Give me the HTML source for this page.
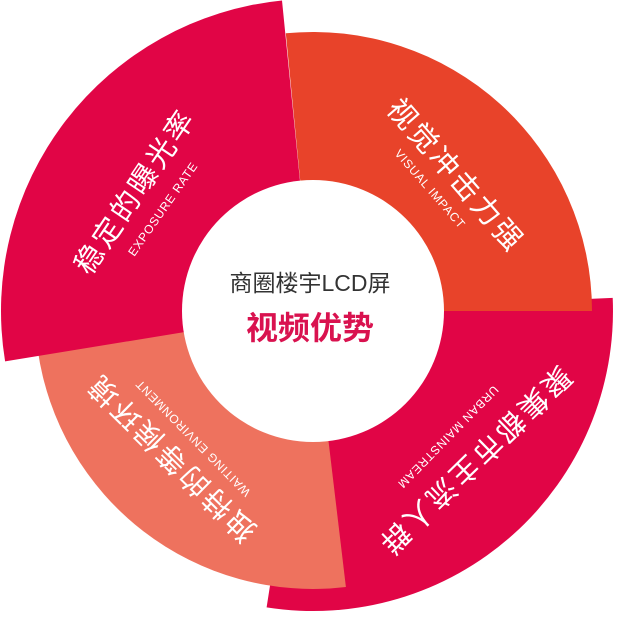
<!DOCTYPE html>
<html><head><meta charset="utf-8"><style>
html,body{margin:0;padding:0;background:#fff;}
svg{display:block;}
text{font-family:"Liberation Sans","Noto Sans CJK SC",sans-serif;}
</style></head><body>
<svg width="620" height="620" viewBox="0 0 620 620" xmlns="http://www.w3.org/2000/svg">
<path d="M313,311 L612.7,297.9 A300,300 0 0 1 266.6,607.4 Z" fill="#E10546"/>
<path d="M313,311 L285.8,33.3 A279,279 0 0 1 592,311 Z" fill="#E8432A"/>
<path d="M313,311 L345.9,587 A278,278 0 0 1 37.7,349.7 Z" fill="#EE725E"/>
<path d="M313,311 L5.1,361.4 A312,312 0 0 1 282,0.5 Z" fill="#E10546"/>
<circle cx="313" cy="311" r="131" fill="#fff"/>

<g fill="#fff" text-anchor="middle" dominant-baseline="central">
<text transform="translate(455,176) rotate(49)" font-size="29" letter-spacing="3">视觉冲击力强</text>
<text transform="translate(430,189) rotate(49)" font-size="12" letter-spacing="0.8">VISUAL IMPACT</text>

<text transform="translate(136,192) rotate(-56)" font-size="29" letter-spacing="3">稳定的曝光率</text>
<text transform="translate(163,209) rotate(-55)" font-size="12" letter-spacing="0.8">EXPOSURE RATE</text>

<text transform="translate(172,457) rotate(224.6)" font-size="29" letter-spacing="3">独特的等候环境</text>
<text transform="translate(193,438) rotate(225.5)" font-size="12" letter-spacing="0.8">WAITING ENVIRONMENT</text>

<text transform="translate(474,460) rotate(135.7)" font-size="29" letter-spacing="3">聚集都市主流人群</text>
<text transform="translate(448,437) rotate(134.4)" font-size="12" letter-spacing="0.8">URBAN MAINSTREAM</text>
</g>

<text x="310" y="283" text-anchor="middle" dominant-baseline="central" font-size="23" fill="#333">商圈楼宇LCD屏</text>
<text x="310" y="328" text-anchor="middle" dominant-baseline="central" font-size="32" font-weight="bold" fill="#D9124F">视频优势</text>
</svg>
</body></html>
